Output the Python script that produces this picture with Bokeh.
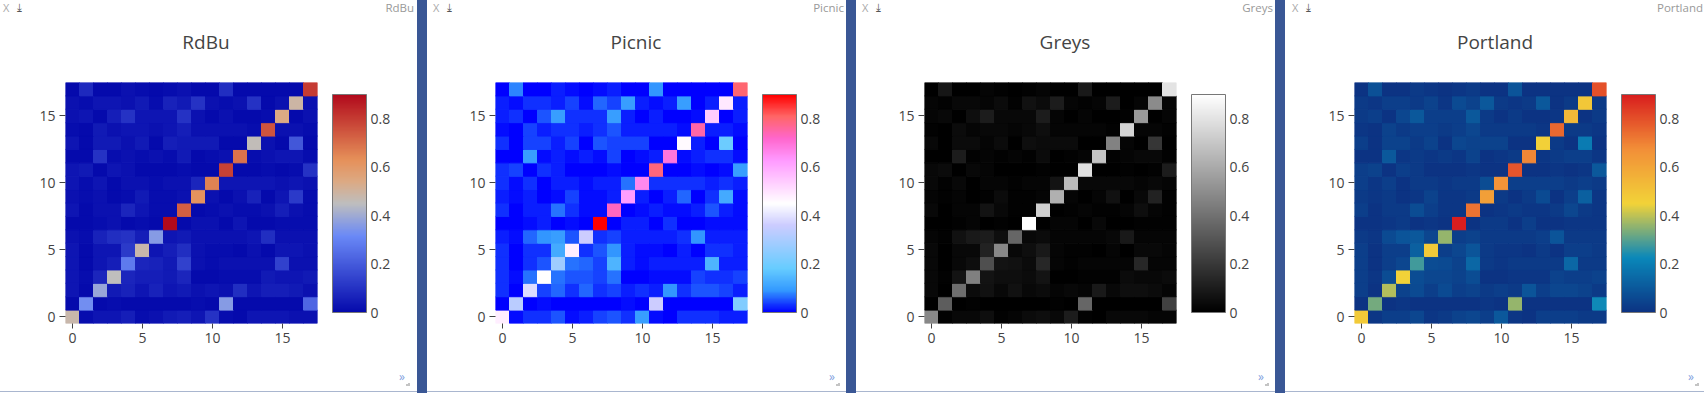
import numpy as np
from bokeh.plotting import figure
from bokeh.models import (LinearColorMapper, ColorBar, FixedTicker, CustomJSTickFormatter,
                          Div, ColumnDataSource)
from bokeh.layouts import row, column
from bokeh.embed import file_html
from bokeh.resources import INLINE

# ---------------- data (rows of the 18x18 matrix, row index = y) ----------------
row00 = [0.48, 0.01, 0.03, 0.03, 0.05, 0.01, 0.02, 0.04, 0.05, 0.03, 0.10, 0.01, 0.00, 0.03, 0.03, 0.03, 0.02, 0.02]
row01 = [0.00, 0.33, 0.00, 0.01, 0.00, 0.00, 0.00, 0.00, 0.00, 0.01, 0.00, 0.36, 0.00, 0.00, 0.00, 0.00, 0.00, 0.23]
row02 = [0.03, 0.00, 0.39, 0.04, 0.06, 0.03, 0.06, 0.03, 0.04, 0.02, 0.03, 0.02, 0.09, 0.03, 0.05, 0.05, 0.04, 0.02]
row03 = [0.03, 0.01, 0.07, 0.45, 0.07, 0.05, 0.05, 0.04, 0.07, 0.00, 0.00, 0.01, 0.01, 0.01, 0.04, 0.03, 0.03, 0.04]
row04 = [0.03, 0.00, 0.03, 0.05, 0.28, 0.07, 0.06, 0.04, 0.14, 0.02, 0.01, 0.02, 0.02, 0.02, 0.02, 0.14, 0.02, 0.02]
row05 = [0.03, 0.00, 0.03, 0.03, 0.12, 0.48, 0.03, 0.05, 0.09, 0.02, 0.01, 0.01, 0.00, 0.02, 0.00, 0.03, 0.03, 0.02]
row06 = [0.02, 0.01, 0.06, 0.09, 0.10, 0.05, 0.36, 0.03, 0.04, 0.02, 0.02, 0.02, 0.02, 0.03, 0.09, 0.02, 0.02, 0.02]
row07 = [0.00, 0.00, 0.01, 0.02, 0.00, 0.01, 0.00, 0.90, 0.00, 0.02, 0.02, 0.00, 0.03, 0.00, 0.00, 0.01, 0.01, 0.01]
row08 = [0.03, 0.00, 0.02, 0.02, 0.07, 0.03, 0.01, 0.01, 0.73, 0.00, 0.01, 0.02, 0.01, 0.01, 0.02, 0.05, 0.02, 0.01]
row09 = [0.02, 0.01, 0.02, 0.00, 0.01, 0.04, 0.01, 0.01, 0.02, 0.62, 0.02, 0.00, 0.02, 0.06, 0.00, 0.03, 0.12, 0.01]
row10 = [0.03, 0.01, 0.03, 0.00, 0.02, 0.02, 0.01, 0.02, 0.02, 0.07, 0.66, 0.03, 0.03, 0.03, 0.03, 0.02, 0.03, 0.02]
row11 = [0.03, 0.04, 0.00, 0.03, 0.02, 0.00, 0.00, 0.00, 0.01, 0.00, 0.00, 0.79, 0.00, 0.00, 0.01, 0.00, 0.01, 0.10]
row12 = [0.00, 0.00, 0.10, 0.01, 0.02, 0.01, 0.02, 0.01, 0.04, 0.00, 0.01, 0.02, 0.69, 0.01, 0.02, 0.03, 0.03, 0.01]
row13 = [0.03, 0.00, 0.04, 0.04, 0.02, 0.04, 0.00, 0.05, 0.04, 0.04, 0.04, 0.00, 0.00, 0.46, 0.02, 0.00, 0.19, 0.00]
row14 = [0.01, 0.00, 0.04, 0.02, 0.03, 0.03, 0.02, 0.03, 0.05, 0.02, 0.02, 0.02, 0.02, 0.01, 0.75, 0.02, 0.02, 0.01]
row15 = [0.02, 0.03, 0.00, 0.05, 0.10, 0.03, 0.03, 0.03, 0.10, 0.02, 0.00, 0.02, 0.00, 0.00, 0.01, 0.54, 0.00, 0.02]
row16 = [0.02, 0.01, 0.03, 0.03, 0.02, 0.04, 0.01, 0.06, 0.04, 0.10, 0.02, 0.01, 0.02, 0.10, 0.00, 0.02, 0.49, 0.02]
row17 = [0.00, 0.08, 0.00, 0.00, 0.02, 0.01, 0.00, 0.01, 0.02, 0.00, 0.00, 0.09, 0.00, 0.00, 0.00, 0.00, 0.00, 0.80]

rows = [row00, row01, row02, row03, row04, row05, row06, row07, row08,
        row09, row10, row11, row12, row13, row14, row15, row16, row17]

scale_names = ["RdBu", "Picnic", "Greys", "Portland"]
axis_ticks = [0, 5, 10, 15]
cbar_ticks = [0, 0.2, 0.4, 0.6, 0.8]

# plotly colorscale definitions (styling)
SCALES = {
    "RdBu": [(0, (5, 10, 172)), (0.35, (106, 137, 247)), (0.5, (190, 190, 190)),
             (0.6, (220, 170, 132)), (0.7, (230, 145, 90)), (1, (178, 10, 28))],
    "Picnic": [(0, (0, 0, 255)), (0.1, (51, 153, 255)), (0.2, (102, 204, 255)), (0.3, (153, 204, 255)),
               (0.4, (204, 204, 255)), (0.5, (255, 255, 255)), (0.6, (255, 204, 255)), (0.7, (255, 153, 255)),
               (0.8, (255, 102, 204)), (0.9, (255, 102, 102)), (1, (255, 0, 0))],
    "Greys": [(0, (0, 0, 0)), (1, (255, 255, 255))],
    "Portland": [(0, (12, 51, 131)), (0.25, (10, 136, 186)), (0.5, (242, 211, 56)),
                 (0.75, (242, 143, 56)), (1, (217, 30, 30))],
}


def make_palette(stops, n=256):
    pos = [s[0] for s in stops]
    cols = np.array([s[1] for s in stops], dtype=float)
    t = np.linspace(0, 1, n)
    r = np.interp(t, pos, cols[:, 0])
    g = np.interp(t, pos, cols[:, 1])
    b = np.interp(t, pos, cols[:, 2])
    return ["#%02x%02x%02x" % (int(round(a)), int(round(c)), int(round(d))) for a, c, d in zip(r, g, b)]


xs, ys, zs = [], [], []
for yi, rvals in enumerate(rows):
    for xi, v in enumerate(rvals):
        xs.append(xi)
        ys.append(yi)
        zs.append(v)
zmin, zmax = min(zs), max(zs)

FONT = "Open Sans"
TXT = "#444444"
H_TOTAL = 393
HEAD_H, FOOT_H = 62, 30
FIG_H = H_TOTAL - HEAD_H - FOOT_H   # 301
FRAME_W = 252
TOP, BOTTOM = 20, 40                  # frame 82..323 on the page

# (panel width, frame left offset)
geoms = [(417, 65), (419, 68), (419, 68), (419, 69)]


def header(name, width, fl):
    html = (
        f'<div style="position:relative;width:{width}px;height:{HEAD_H}px;'
        f'font-family:\'{FONT}\';margin:0;padding:0;">'
        f'<span style="position:absolute;left:{fl-62}px;top:0px;font-size:11px;line-height:15px;color:#aaaaaa;">X</span>'
        f'<span style="position:absolute;left:{fl-48}px;top:0px;font-size:11px;line-height:15px;color:#555555;'
        f'font-family:\'DejaVu Sans\';">\u2913</span>'
        f'<span style="position:absolute;right:{width-(fl+349)}px;top:0px;font-size:11.5px;line-height:16px;'
        f'color:#999999;">{name}</span>'
        f'<span style="position:absolute;left:{fl+141-100}px;width:200px;text-align:center;top:29px;'
        f'font-size:19px;line-height:26px;color:{TXT};">{name}</span>'
        f'</div>')
    return Div(text=html, width=width, height=HEAD_H, styles={"margin": "0", "padding": "0"})


def footer(width, fl):
    html = (
        f'<div style="position:relative;width:{width}px;height:{FOOT_H}px;margin:0;padding:0;">'
        f'<span style="position:absolute;left:{fl+334}px;top:5px;font-size:12px;line-height:17px;'
        f'color:#7f9fe0;font-family:\'{FONT}\';">\u00bb</span>'
        f'<span style="position:absolute;left:{fl+341}px;top:20px;width:4px;height:3px;'
        f'border-right:2px solid #c4c4c4;border-bottom:2px solid #c4c4c4;"></span>'
        f'<span style="position:absolute;left:0px;top:28px;width:{width}px;height:1px;background:#a9b6cf;"></span>'
        f'</div>')
    return Div(text=html, width=width, height=FOOT_H, styles={"margin": "0", "padding": "0"})


def make_panel(name, geom):
    width, fl = geom
    right = width - fl - FRAME_W
    pal = make_palette(SCALES[name])
    mapper = LinearColorMapper(palette=pal, low=zmin, high=zmax)
    src = ColumnDataSource(dict(x=xs, y=ys, z=zs))
    p = figure(width=width, height=FIG_H, x_range=(-0.5, 17.5), y_range=(-0.5, 17.5),
               output_backend="svg", toolbar_location=None,
               min_border_left=fl, min_border_right=right,
               min_border_top=TOP, min_border_bottom=BOTTOM)
    p.rect(x="x", y="y", width=1, height=1, source=src,
           fill_color={"field": "z", "transform": mapper},
           line_color={"field": "z", "transform": mapper}, line_width=1)
    p.grid.visible = False
    p.outline_line_color = None
    p.background_fill_color = "white"
    p.border_fill_color = "white"
    for ax in (p.xaxis[0], p.yaxis[0]):
        ax.ticker = FixedTicker(ticks=axis_ticks)
        ax.axis_line_color = None
        ax.minor_tick_line_color = None
        ax.major_tick_line_color = TXT
        ax.major_tick_in = 0
        ax.major_label_text_font = FONT
        ax.major_label_text_font_size = "14px"
        ax.major_label_text_color = TXT
    p.xaxis.major_tick_out = 5
    p.xaxis.major_label_standoff = 4
    p.yaxis.major_tick_out = 6
    p.yaxis.major_label_standoff = 4

    cb = ColorBar(color_mapper=mapper, width=34, height=218, location=(15, 11),
                  ticker=FixedTicker(ticks=cbar_ticks),
                  formatter=CustomJSTickFormatter(code="return String(Math.round(tick*10)/10)"),
                  major_label_text_font=FONT, major_label_text_font_size="14px",
                  major_label_text_color=TXT, major_tick_line_color=None,
                  minor_tick_line_color=None,
                  bar_line_color="#777777", bar_line_width=1, padding=0, label_standoff=4,
                  background_fill_color=None, border_line_color=None)
    p.add_layout(cb, "right")
    return column(header(name, width, fl), p, footer(width, fl), spacing=0)


def bar():
    return Div(text="", width=10, height=H_TOTAL,
               styles={"background-color": "#3a5795", "margin": "0"})


panels = [make_panel(n, g) for n, g in zip(scale_names, geoms)]
layout = row(panels[0], bar(), panels[1], bar(), panels[2], bar(), panels[3], spacing=0)

open("out.html", "w").write(file_html(layout, INLINE))
